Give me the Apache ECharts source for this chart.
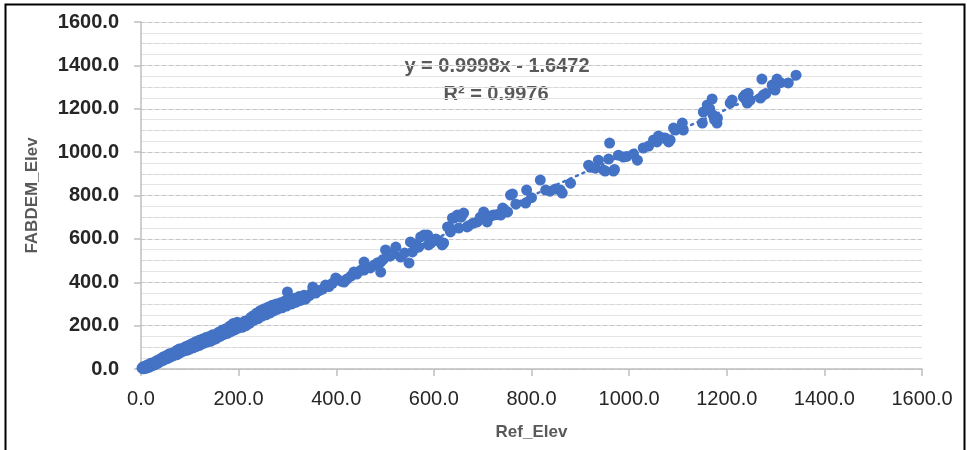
<!DOCTYPE html>
<html>
  <head>
    <meta charset="UTF-8" />
    <title>FABDEM_Elev vs Ref_Elev</title>
    <script src="https://cdn.jsdelivr.net/npm/echarts@6/dist/echarts.min.js"></script>
    <style>
      html, body { margin: 0; padding: 0; background: #fff; }
      #chart { width: 967px; height: 450px; }
    </style>
  </head>
  <body>
    <div id="chart"></div>
    <script type="text/javascript">
      // [Ref_Elev, FABDEM_Elev] pairs
      var samples = [
        [2,4],[4,10],[5,1],[7,6],[9,14],[10,3],[12,9],[14,20],[16,8],[18,16],
        [20,26],[22,14],[24,21],[26,30],[28,19],[30,27],[32,38],[34,26],[36,33],[38,45],
        [40,34],[43,40],[45,55],[47,41],[49,50],[52,62],[54,48],[56,57],[58,70],[60,55],
        [63,60],[65,74],[67,62],[69,68],[72,84],[74,66],[76,79],[78,92],[80,74],[83,80],
        [85,96],[87,82],[90,88],[92,104],[94,86],[96,95],[98,110],[100,92],[103,100],[105,118],
        [107,98],[110,108],[112,126],[114,104],[117,118],[119,132],[121,110],[124,122],[126,138],[128,118],
        [131,128],[133,145],[135,124],[138,136],[140,150],[142,128],[145,142],[147,158],[149,136],[152,150],
        [154,140],[157,156],[159,170],[162,150],[164,162],[167,180],[169,158],[172,170],[174,186],[177,164],
        [179,176],[182,198],[184,172],[187,185],[189,210],[192,180],[194,196],[197,215],[199,188],[202,200],
        [204,210],[207,192],[209,206],[212,220],[215,200],[217,214],[220,226],[222,210],[225,238],[227,222],
        [230,246],[232,226],[235,240],[237,258],[240,232],[243,252],[245,270],[248,244],[250,260],[253,278],
        [256,250],[258,268],[261,286],[264,258],[266,276],[269,294],[272,268],[275,284],[277,300],[280,276],
        [283,292],[286,306],[289,282],[292,298],[295,314],[298,290],[300,355],[303,306],[306,318],[309,300],
        [312,314],[315,326],[318,308],[321,320],[324,334],[327,316],[330,330],[334,340],[337,322],[340,336],
        [345,338],[350,352],[352,378],[358,350],[365,362],[372,368],[378,387],[385,380],
        [392,395],[399,420],[403,412],[410,405],[416,401],[422,415],[430,428],[436,447],[442,438],[450,455],
        [457,493],[457,456],[462,470],[470,466],[478,480],[485,490],[491,493],[491,447],[496,505],[501,549],
        [510,520],[516,530],[522,562],[532,516],[540,535],[549,489],[552,586],[556,540],[562,575],[566,562],
        [569,562],[573,609],[580,618],[587,618],[589,572],[590,604],[594,581],[600,595],[604,600],[610,590],
        [617,572],[620,581],[628,655],[631,655],[634,632],[638,696],[641,696],[648,710],[651,650],[656,700],
        [661,719],[668,655],[671,660],[680,672],[689,678],[695,700],[702,724],[709,678],[716,705],[722,710],
        [730,712],[737,710],[741,742],[751,724],[757,802],[761,807],[768,760],[788,765],[790,825],[800,790],
        [818,871],[829,825],[838,820],[849,830],[859,825],[863,811],[880,857],[917,940],[921,930],[931,926],
        [937,963],[948,917],[951,913],[958,968],[960,1042],[968,913],[970,920],[978,986],[988,977],[995,980],
        [1009,991],[1017,963],[1029,1019],[1040,1028],[1050,1056],[1057,1047],[1060,1074],[1070,1065],[1074,1065],[1081,1047],
        [1084,1056],[1091,1111],[1095,1102],[1109,1134],[1111,1102],[1150,1134],[1152,1185],[1160,1217],[1165,1200],[1170,1245],
        [1172,1171],[1180,1134],[1181,1157],[1175,1150],[1207,1226],[1211,1240],[1234,1254],[1238,1265],[1244,1272],[1242,1226],
        [1248,1240],[1269,1249],[1272,1337],[1275,1263],[1280,1270],[1293,1309],[1299,1286],[1303,1337],[1310,1320],[1326,1319],
        [1342,1355]
      ];

      // linear trendline from the chart
      var trendSlope = 0.9998;
      var trendIntercept = -1.6472;
      var trendRange = [0, 1345];

      var axisTicks = [0, 200, 400, 600, 800, 1000, 1200, 1400, 1600];
      var eqLabels = ["y = 0.9998x - 1.6472", "R\u00B2 = 0.9976"];

      var trendData = trendRange.map(function (x) {
        return [x, trendSlope * x + trendIntercept];
      });

      var chart = echarts.init(document.getElementById("chart"));

      var fmt = function (v) { return v.toFixed(1); };
      var lblFont = "'Liberation Sans', Arial, sans-serif";

      var option = {
        backgroundColor: "#fff",
        animation: false,
        grid: { left: 141, right: 45, top: 22, bottom: 81, outerBoundsMode: "none", containLabel: false },
        xAxis: {
          type: "value",
          min: axisTicks[0],
          max: axisTicks[axisTicks.length - 1],
          interval: 200,
          name: "Ref_Elev",
          nameLocation: "middle",
          nameGap: 55,
          nameTextStyle: { fontFamily: lblFont, fontSize: 17, fontWeight: "bold", color: "#595959" },
          axisLine: { show: true, lineStyle: { color: "#bfbfbf", width: 1.5 } },
          axisTick: { show: true, length: 7, lineStyle: { color: "#bfbfbf", width: 1.5 } },
          axisLabel: { formatter: fmt, margin: 20, fontFamily: lblFont, fontSize: 20, color: "#262626" },
          splitLine: { show: false }
        },
        yAxis: [
          {
            type: "value",
            position: "left",
            min: 0,
            max: 1600,
            interval: 50,
            axisLine: { show: false },
            axisTick: { show: false },
            axisLabel: { show: false },
            splitLine: { show: true, lineStyle: { color: "#e4e4e4", width: 1 } }
          },
          {
            type: "value",
            position: "left",
            offset: 0,
            min: 0,
            max: 1600,
            interval: 200,
            name: "FABDEM_Elev",
            nameLocation: "middle",
            nameGap: 100,
            nameRotate: 90,
            nameTextStyle: { fontFamily: lblFont, fontSize: 17, fontWeight: "bold", color: "#595959" },
            axisLine: { show: true, lineStyle: { color: "#bfbfbf", width: 1.5 } },
            axisTick: { show: true, length: 7, lineStyle: { color: "#bfbfbf", width: 1.5 } },
            axisLabel: { formatter: fmt, margin: 22, fontFamily: lblFont, fontSize: 20, fontWeight: "bold", color: "#262626" },
            splitLine: { show: true, lineStyle: { color: "#c4c4c4", width: 1, type: [4, 3] } },
            minorTick: { show: false, splitNumber: 2 },
            minorSplitLine: { show: true, lineStyle: { color: "#d6d6d6", width: 1, type: [4, 3] } }
          }
        ],
        series: [
          {
            name: "FABDEM_Elev",
            type: "scatter",
            yAxisIndex: 1,
            symbolSize: 11,
            itemStyle: { color: "#4472C4", opacity: 1 },
            data: samples,
            z: 3
          },
          {
            name: "Linear",
            type: "line",
            yAxisIndex: 1,
            symbol: "none",
            lineStyle: { color: "#4472C4", width: 2.5, type: [2, 5], cap: "round" },
            data: trendData,
            z: 4
          }
        ],
        graphic: [
          {
            type: "text",
            x: 497,
            y: 66,
            style: {
              text: eqLabels[0],
              align: "center",
              verticalAlign: "middle",
              font: "bold 20px 'Liberation Sans', Arial, sans-serif",
              fill: "#595959"
            }
          },
          {
            type: "text",
            x: 496,
            y: 94,
            style: {
              text: eqLabels[1],
              align: "center",
              verticalAlign: "middle",
              font: "bold 20px 'Liberation Sans', Arial, sans-serif",
              fill: "#595959"
            }
          },
          {
            type: "rect",
            left: 3,
            top: 2,
            shape: { width: 959, height: 470 },
            style: { fill: "none", stroke: "#000", lineWidth: 2 },
            silent: true
          }
        ]
      };

      chart.setOption(option);
    </script>
  </body>
</html>
